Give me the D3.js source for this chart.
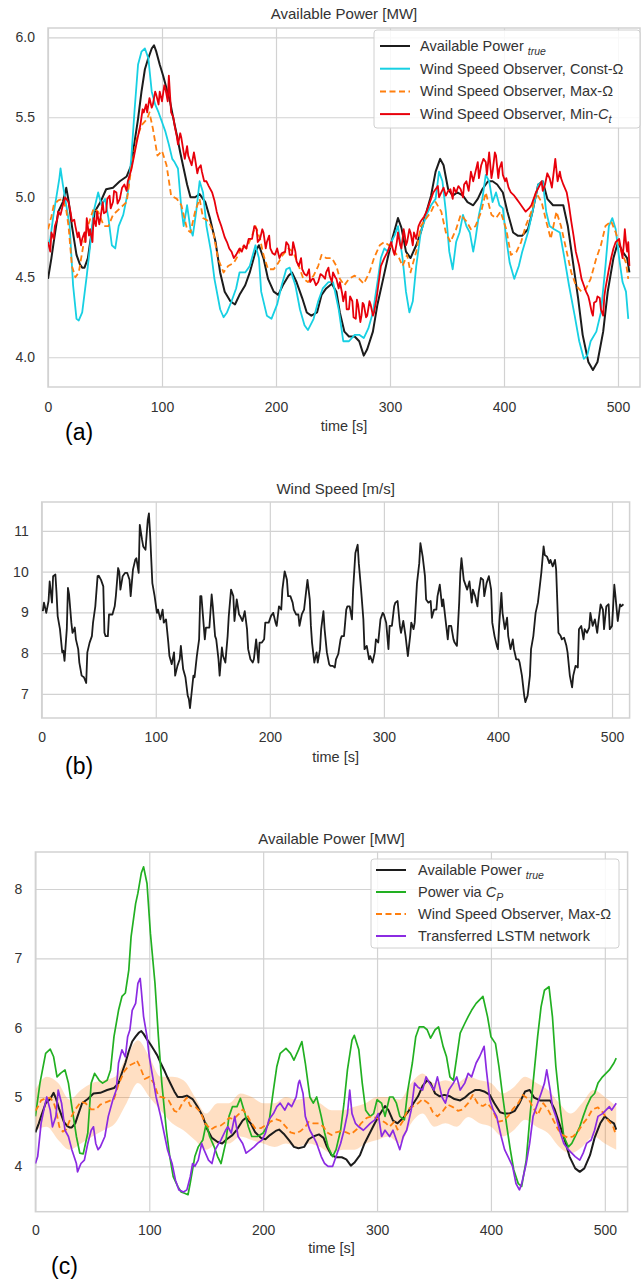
<!DOCTYPE html>
<html><head><meta charset="utf-8">
<script src="https://cdn.jsdelivr.net/npm/d3@7"></script>
<style>body{margin:0;background:#fff}svg{display:block}text{font-family:"Liberation Sans",Arial,sans-serif}</style>
</head><body><svg id="chart" width="641" height="1280"></svg>
<script>
// ---------- data (time [s], value) ----------
const timeTicks = [0, 100, 200, 300, 400, 500];
const powerTicks = [4.0, 4.5, 5.0, 5.5, 6.0];
const windTicks = [7, 8, 9, 10, 11];
const powerTicksC = [4, 5, 6, 7, 8];

const powerTrue = [[0,4.49],[3,4.62],[5,4.72],[9,4.91],[13,4.97],[16,5.06],[18,4.98],[21,4.82],[25,4.64],[28,4.58],[30,4.56],[32,4.56],[35,4.62],[37,4.72],[41,4.91],[46,4.97],[51,5.05],[57,5.06],[63,5.10],[69,5.13],[73,5.20],[76,5.35],[79,5.49],[82,5.66],[85,5.80],[88,5.87],[91,5.93],[93,5.95],[95,5.91],[98,5.83],[101,5.76],[104,5.68],[107,5.60],[110,5.49],[113,5.39],[116,5.28],[119,5.18],[122,5.08],[125,5.00],[129,5.00],[133,5.02],[138,4.97],[142,4.87],[147,4.72],[151,4.53],[155,4.41],[160,4.35],[164,4.33],[168,4.39],[173,4.45],[177,4.53],[182,4.66],[185,4.70],[189,4.62],[193,4.49],[198,4.41],[202,4.39],[206,4.45],[211,4.51],[214,4.53],[218,4.47],[223,4.37],[227,4.28],[231,4.26],[236,4.28],[240,4.39],[244,4.43],[249,4.46],[253,4.41],[256,4.28],[260,4.16],[264,4.13],[269,4.13],[273,4.10],[277,4.01],[280,4.05],[285,4.16],[289,4.33],[294,4.49],[298,4.62],[302,4.74],[307,4.87],[310,4.81],[314,4.66],[318,4.62],[323,4.70],[327,4.78],[332,4.91],[336,5.01],[340,5.16],[344,5.24],[347,5.20],[351,5.05],[355,5.01],[359,5.03],[364,5.01],[368,4.97],[373,4.95],[377,4.99],[381,5.05],[386,5.10],[390,5.10],[394,5.08],[399,5.03],[403,4.91],[408,4.78],[412,4.76],[416,4.76],[421,4.80],[425,4.91],[430,5.08],[434,5.10],[438,4.99],[443,4.95],[447,4.95],[452,4.95],[456,4.82],[460,4.62],[465,4.37],[469,4.14],[474,3.97],[478,3.92],[482,3.97],[487,4.16],[491,4.41],[496,4.62],[500,4.72],[504,4.66],[508,4.62],[510,4.53]];

const obsConstOmega = [[0,4.70],[2,4.74],[5,4.90],[8,5.03],[10,5.12],[11,5.18],[13,5.08],[16,4.95],[19,4.82],[22,4.45],[25,4.24],[27,4.23],[30,4.28],[34,4.51],[37,4.70],[40,4.91],[44,5.03],[47,4.95],[50,4.99],[53,4.87],[56,4.70],[59,4.68],[62,4.82],[66,4.89],[70,5.03],[73,5.24],[76,5.55],[79,5.83],[82,5.91],[85,5.93],[88,5.87],[91,5.66],[94,5.58],[97,5.53],[100,5.47],[103,5.41],[106,5.33],[109,5.24],[111,5.22],[114,5.18],[117,4.93],[119,4.82],[122,4.95],[125,4.80],[127,4.76],[130,4.91],[133,5.10],[136,5.03],[139,4.82],[143,4.66],[146,4.49],[151,4.30],[154,4.25],[157,4.28],[161,4.35],[165,4.43],[168,4.53],[173,4.53],[177,4.57],[182,4.70],[185,4.62],[187,4.41],[192,4.26],[196,4.24],[201,4.33],[205,4.45],[209,4.55],[212,4.56],[217,4.45],[221,4.30],[225,4.20],[228,4.17],[233,4.24],[237,4.35],[241,4.43],[246,4.47],[250,4.47],[255,4.30],[259,4.10],[264,4.10],[269,4.14],[273,4.14],[277,4.12],[281,4.18],[285,4.28],[289,4.47],[292,4.62],[295,4.68],[298,4.66],[301,4.72],[304,4.76],[307,4.82],[311,4.62],[314,4.41],[317,4.28],[320,4.35],[323,4.57],[327,4.78],[332,4.89],[336,4.95],[340,4.99],[343,5.16],[346,5.10],[349,4.91],[352,4.66],[355,4.55],[358,4.72],[361,4.78],[364,4.89],[367,4.82],[370,4.78],[373,4.66],[375,4.74],[378,4.89],[381,4.99],[384,5.14],[387,5.10],[390,4.97],[393,5.03],[396,4.95],[399,4.93],[402,4.74],[405,4.59],[409,4.49],[413,4.57],[416,4.66],[421,4.78],[425,4.91],[430,5.08],[434,5.10],[437,4.91],[440,4.82],[444,4.80],[449,4.78],[453,4.62],[457,4.45],[462,4.26],[466,4.10],[470,3.99],[473,4.01],[476,4.10],[481,4.16],[485,4.28],[489,4.57],[492,4.82],[495,4.87],[498,4.80],[501,4.62],[504,4.47],[507,4.41],[509,4.24]];

const obsMaxOmega = [[0,4.80],[3,4.88],[5,4.95],[9,4.98],[13,4.99],[16,4.92],[18,4.82],[21,4.57],[24,4.50],[27,4.53],[31,4.70],[35,4.82],[40,4.93],[44,4.91],[49,4.82],[53,4.82],[57,4.89],[63,4.93],[69,4.97],[73,5.18],[78,5.37],[82,5.45],[87,5.49],[89,5.53],[92,5.43],[96,5.26],[100,5.29],[104,5.20],[108,5.01],[113,4.99],[117,4.95],[122,4.80],[125,4.78],[129,4.91],[133,4.99],[136,4.87],[141,4.85],[145,4.78],[149,4.62],[154,4.53],[158,4.57],[163,4.59],[167,4.64],[170,4.70],[174,4.68],[179,4.76],[182,4.82],[186,4.74],[189,4.64],[193,4.55],[198,4.55],[202,4.59],[206,4.64],[211,4.68],[215,4.66],[220,4.57],[224,4.49],[228,4.47],[233,4.51],[237,4.57],[240,4.64],[244,4.62],[249,4.62],[253,4.57],[256,4.49],[260,4.45],[264,4.49],[269,4.51],[273,4.49],[277,4.46],[282,4.53],[286,4.62],[291,4.70],[295,4.72],[299,4.70],[304,4.66],[308,4.62],[311,4.57],[315,4.64],[318,4.53],[323,4.66],[327,4.82],[332,4.87],[336,4.91],[340,4.97],[345,4.91],[349,4.78],[353,4.72],[358,4.80],[362,4.89],[367,4.85],[371,4.80],[375,4.82],[380,4.91],[384,5.03],[389,4.89],[393,4.87],[397,4.91],[402,4.80],[406,4.64],[411,4.66],[415,4.72],[419,4.82],[424,4.91],[428,5.03],[433,4.97],[437,4.85],[441,4.74],[446,4.91],[450,4.82],[455,4.66],[459,4.53],[463,4.45],[468,4.41],[472,4.43],[476,4.49],[481,4.62],[485,4.70],[489,4.82],[494,4.85],[498,4.78],[503,4.66],[507,4.59],[509,4.49]];

const obsMinCt = [[0,4.72],[2,4.66],[3,4.78],[5,4.74],[6,4.82],[8,4.86],[9,4.91],[11,4.89],[13,4.95],[15,5.00],[18,4.97],[20,4.90],[21,4.85],[23,4.86],[24,4.82],[26,4.75],[27,4.78],[29,4.70],[30,4.74],[32,4.78],[33,4.72],[34,4.87],[36,4.76],[37,4.80],[39,4.72],[40,4.87],[42,4.82],[43,4.91],[45,4.83],[46,4.87],[48,4.97],[49,4.90],[51,4.91],[52,4.99],[54,5.01],[55,4.93],[57,4.97],[58,5.04],[60,5.03],[61,4.96],[63,4.99],[65,5.06],[67,5.08],[69,5.04],[70,5.10],[73,5.17],[75,5.24],[78,5.35],[81,5.45],[83,5.55],[84,5.53],[86,5.58],[87,5.53],[89,5.62],[91,5.56],[92,5.58],[94,5.66],[95,5.64],[97,5.58],[98,5.66],[100,5.60],[102,5.70],[103,5.68],[105,5.60],[106,5.76],[108,5.53],[110,5.50],[111,5.45],[113,5.38],[114,5.33],[116,5.40],[117,5.37],[119,5.28],[120,5.24],[122,5.32],[123,5.26],[125,5.22],[126,5.20],[128,5.28],[129,5.24],[131,5.15],[132,5.18],[134,5.20],[135,5.16],[137,5.10],[139,5.10],[141,5.07],[144,5.03],[146,4.98],[148,4.91],[150,4.86],[152,4.82],[155,4.75],[157,4.72],[159,4.68],[161,4.66],[163,4.62],[165,4.64],[168,4.68],[170,4.66],[172,4.70],[174,4.68],[176,4.74],[179,4.74],[181,4.82],[183,4.80],[184,4.72],[186,4.74],[188,4.80],[189,4.78],[191,4.68],[192,4.72],[194,4.76],[195,4.68],[197,4.65],[199,4.64],[201,4.68],[203,4.62],[205,4.65],[208,4.66],[209,4.72],[211,4.70],[212,4.64],[214,4.64],[215,4.72],[217,4.66],[218,4.60],[220,4.57],[222,4.62],[223,4.55],[225,4.52],[227,4.51],[229,4.55],[230,4.47],[232,4.49],[233,4.49],[235,4.45],[237,4.47],[239,4.52],[241,4.51],[243,4.49],[244,4.53],[246,4.56],[247,4.51],[249,4.47],[250,4.53],[252,4.50],[253,4.49],[255,4.43],[256,4.47],[258,4.40],[259,4.35],[261,4.41],[262,4.30],[264,4.30],[265,4.38],[267,4.35],[268,4.25],[270,4.24],[271,4.36],[272,4.33],[274,4.22],[275,4.26],[276,4.34],[277,4.33],[279,4.25],[280,4.26],[282,4.35],[283,4.33],[285,4.26],[286,4.28],[288,4.36],[289,4.41],[292,4.57],[295,4.62],[298,4.66],[301,4.72],[303,4.66],[304,4.64],[306,4.72],[307,4.78],[309,4.70],[310,4.68],[312,4.80],[313,4.76],[314,4.70],[315,4.72],[317,4.80],[318,4.78],[320,4.70],[321,4.78],[323,4.74],[325,4.82],[327,4.85],[330,4.88],[332,4.91],[334,4.95],[336,4.99],[338,5.03],[340,5.05],[342,5.07],[343,5.00],[345,5.03],[347,5.06],[349,5.01],[351,5.04],[353,5.05],[355,4.99],[356,5.06],[358,5.03],[360,5.07],[362,5.05],[364,5.00],[365,5.08],[367,5.10],[369,5.04],[371,5.16],[373,5.10],[375,5.16],[377,5.22],[378,5.12],[380,5.20],[382,5.24],[384,5.22],[385,5.14],[387,5.28],[389,5.12],[390,5.16],[392,5.28],[393,5.26],[395,5.12],[396,5.18],[398,5.22],[399,5.14],[401,5.10],[402,5.12],[404,5.06],[406,5.03],[409,5.01],[411,4.99],[413,4.97],[415,4.95],[417,4.93],[419,4.91],[422,4.93],[424,4.95],[426,4.99],[428,5.03],[431,5.07],[433,5.10],[434,5.04],[436,5.08],[438,5.15],[440,5.12],[442,5.06],[444,5.18],[445,5.24],[447,5.10],[449,5.16],[450,5.12],[452,5.08],[455,5.03],[457,4.95],[459,4.85],[461,4.76],[463,4.66],[466,4.57],[468,4.49],[470,4.45],[472,4.41],[474,4.38],[475,4.35],[477,4.28],[478,4.26],[479,4.34],[481,4.35],[482,4.38],[484,4.37],[485,4.30],[487,4.26],[488,4.38],[489,4.43],[492,4.55],[494,4.62],[496,4.68],[498,4.72],[501,4.74],[503,4.66],[504,4.62],[505,4.70],[506,4.80],[507,4.72],[508,4.66],[509,4.72],[510,4.57]];

const windSpeed = [[1,9.03],[2,9.24],[4,8.99],[6,9.28],[7,9.76],[9,9.24],[10,9.89],[12,9.93],[13,9.48],[14,8.91],[16,8.59],[18,8.02],[19,8.06],[20,7.81],[22,8.59],[23,9.60],[24,9.44],[26,8.75],[27,8.50],[29,8.63],[30,8.34],[32,8.10],[33,7.77],[35,7.45],[37,7.41],[39,7.27],[40,8.02],[42,8.26],[44,8.42],[45,8.75],[47,9.15],[49,9.89],[50,9.90],[52,9.80],[54,9.64],[55,8.50],[56,8.42],[58,8.42],[59,8.95],[62,8.95],[64,9.15],[65,9.40],[67,10.09],[68,10.00],[69,9.56],[71,9.89],[73,9.97],[75,9.97],[77,9.80],[78,9.40],[80,10.05],[82,10.29],[83,10.33],[85,9.97],[86,11.15],[88,10.78],[89,10.62],[91,10.54],[93,11.27],[94,11.43],[95,10.94],[97,9.72],[99,9.40],[101,8.99],[102,9.07],[104,8.83],[106,9.07],[107,8.75],[109,8.83],[111,8.26],[112,7.93],[114,7.73],[116,8.02],[117,7.45],[119,7.69],[121,7.85],[122,8.18],[124,7.61],[126,7.41],[128,6.96],[129,6.88],[130,6.65],[133,7.45],[134,7.41],[136,7.93],[138,8.34],[139,9.40],[140,9.40],[143,8.34],[144,8.63],[147,8.63],[149,9.44],[150,9.15],[152,8.42],[153,8.34],[155,7.85],[156,7.45],[158,8.14],[159,7.93],[161,7.77],[163,8.42],[164,8.91],[166,9.56],[168,9.40],[169,8.79],[171,9.32],[173,8.95],[174,8.91],[176,8.79],[178,9.03],[180,8.59],[181,8.10],[183,7.85],[185,7.77],[186,7.85],[188,8.34],[190,7.77],[191,8.26],[193,8.26],[195,8.34],[196,8.75],[199,8.75],[201,8.91],[203,8.99],[205,8.75],[206,8.67],[208,9.15],[210,9.07],[211,9.56],[213,10.01],[215,9.80],[216,9.40],[218,9.40],[220,9.24],[221,9.07],[223,8.95],[225,8.95],[226,8.67],[228,8.95],[230,9.07],[232,9.56],[233,9.80],[235,9.32],[236,8.67],[237,8.26],[239,7.77],[241,8.02],[242,7.77],[244,8.10],[245,8.59],[247,9.03],[248,8.59],[250,8.02],[252,7.73],[253,7.69],[255,7.69],[257,7.65],[258,7.85],[260,7.98],[262,8.34],[263,8.42],[265,8.42],[267,9.07],[268,9.15],[270,9.15],[272,8.83],[273,9.56],[275,10.46],[277,10.66],[278,10.21],[280,9.56],[282,8.83],[283,8.10],[285,8.18],[287,7.85],[288,7.93],[290,7.77],[292,8.02],[293,8.34],[295,8.26],[297,8.83],[299,8.99],[300,8.95],[302,8.75],[304,8.10],[305,8.67],[307,8.67],[309,9.15],[310,9.24],[312,9.28],[314,8.67],[315,8.50],[317,8.79],[319,8.42],[321,7.93],[323,8.42],[324,8.75],[326,8.59],[327,8.75],[329,9.72],[331,10.21],[332,10.70],[334,10.37],[336,9.89],[337,9.32],[339,9.24],[341,9.28],[342,8.87],[344,9.07],[346,9.07],[347,9.40],[349,9.68],[351,9.15],[352,9.32],[354,8.83],[356,8.34],[357,8.67],[359,8.67],[361,8.34],[362,8.26],[364,8.18],[366,9.24],[367,9.97],[368,10.33],[370,9.80],[372,9.64],[373,9.56],[375,9.76],[377,9.24],[378,9.56],[380,9.40],[382,9.15],[383,9.48],[385,9.85],[387,9.80],[388,9.40],[390,9.72],[392,9.89],[394,9.56],[395,8.75],[397,8.42],[399,8.18],[400,8.10],[401,8.67],[403,9.48],[404,8.99],[406,8.59],[408,8.87],[409,8.42],[411,8.10],[413,8.34],[414,8.10],[416,7.85],[418,7.85],[419,7.77],[421,7.45],[423,6.96],[424,6.80],[426,6.96],[428,7.45],[429,8.10],[431,8.42],[433,8.99],[435,9.24],[436,9.48],[438,9.97],[440,10.62],[441,10.41],[443,10.37],[445,10.21],[446,10.29],[448,10.13],[450,10.29],[451,10.05],[453,8.50],[455,8.42],[456,8.34],[458,8.38],[460,8.18],[461,8.02],[463,7.45],[465,7.16],[466,7.45],[468,7.69],[470,7.65],[471,8.59],[473,8.67],[475,8.34],[476,8.59],[478,8.50],[480,8.63],[481,8.99],[483,8.67],[485,8.83],[487,8.50],[488,8.75],[490,9.20],[492,9.07],[493,8.59],[495,9.15],[497,9.20],[498,8.59],[500,8.67],[502,9.68],[503,9.40],[505,8.79],[507,9.20],[508,9.15],[510,9.20]];

const powerViaCp = [[0,4.72],[4,5.20],[9,5.63],[13,5.69],[16,5.58],[19,5.29],[22,5.34],[26,5.39],[29,5.20],[32,4.86],[36,4.43],[39,4.19],[42,4.18],[46,4.48],[49,5.20],[52,5.34],[56,5.24],[59,5.20],[63,5.24],[66,5.39],[69,5.87],[73,6.25],[76,6.45],[79,6.50],[82,6.83],[84,7.31],[88,7.79],[90,7.94],[93,8.23],[95,8.32],[98,8.08],[101,7.36],[105,6.64],[108,5.87],[111,5.20],[115,4.52],[118,4.14],[121,3.85],[125,3.71],[128,3.63],[131,3.61],[134,3.59],[136,3.76],[140,4.14],[143,4.28],[147,4.38],[150,4.62],[153,4.43],[157,4.28],[160,4.14],[163,4.04],[167,4.33],[170,4.72],[173,4.86],[177,4.86],[180,4.98],[184,4.76],[187,4.57],[190,4.43],[195,4.43],[200,4.48],[205,4.62],[209,5.10],[212,5.44],[215,5.63],[220,5.70],[224,5.63],[227,5.53],[231,5.68],[234,5.80],[237,5.49],[241,5.00],[244,4.91],[247,5.00],[251,4.72],[254,4.48],[257,4.28],[261,4.14],[264,4.24],[268,4.52],[271,4.91],[274,5.39],[278,5.82],[280,5.89],[284,5.68],[287,5.20],[290,4.81],[294,4.72],[297,4.76],[300,4.96],[304,4.91],[307,4.72],[311,5.00],[314,5.00],[317,4.91],[320,4.72],[324,4.67],[327,5.10],[331,5.49],[334,5.87],[337,6.01],[341,6.01],[344,5.97],[347,5.85],[351,5.97],[354,6.01],[358,5.73],[361,5.58],[364,5.29],[367,5.24],[370,5.58],[373,5.92],[377,6.06],[380,6.16],[383,6.25],[387,6.35],[390,6.40],[393,6.45],[397,6.16],[400,5.87],[404,5.77],[407,5.44],[410,5.05],[414,4.57],[417,4.24],[420,3.95],[424,3.75],[427,3.71],[431,4.09],[434,4.67],[437,5.20],[441,5.87],[444,6.30],[447,6.54],[451,6.59],[454,6.16],[457,5.44],[461,4.81],[464,4.43],[468,4.28],[471,4.33],[474,4.43],[478,4.57],[481,4.72],[484,4.86],[488,5.00],[491,5.05],[494,5.20],[498,5.29],[501,5.34],[504,5.39],[508,5.49],[510,5.56]];

const lstmTransferred = [[0,4.04],[2,4.14],[5,4.62],[8,4.86],[10,5.00],[13,4.81],[15,4.57],[18,4.72],[20,5.10],[23,4.91],[26,4.52],[29,4.43],[32,4.24],[36,4.04],[37,3.92],[40,4.04],[43,4.09],[46,4.33],[49,4.52],[51,4.57],[53,4.33],[55,4.24],[57,4.28],[61,4.43],[64,4.72],[68,4.96],[71,5.10],[73,5.49],[76,5.68],[79,5.58],[81,5.87],[83,5.97],[85,6.25],[88,6.35],[90,6.64],[92,6.71],[93,6.54],[95,6.16],[98,5.87],[100,5.58],[103,5.29],[106,5.00],[110,4.72],[113,4.48],[116,4.24],[120,4.04],[123,3.80],[126,3.66],[130,3.63],[133,3.66],[136,3.85],[138,4.04],[140,4.00],[143,4.09],[146,4.33],[148,4.24],[152,4.09],[155,4.04],[158,4.24],[161,4.33],[163,4.38],[167,4.52],[169,4.57],[172,4.48],[175,4.72],[178,4.43],[182,4.33],[185,4.19],[189,4.24],[192,4.28],[195,4.33],[199,4.38],[202,4.48],[205,4.67],[209,4.76],[212,4.86],[215,4.91],[219,4.81],[222,4.91],[225,4.86],[229,5.00],[231,5.20],[232,5.24],[235,5.05],[237,4.72],[241,4.52],[244,4.43],[247,4.33],[251,4.14],[254,4.04],[257,4.00],[261,4.00],[264,4.14],[268,4.33],[271,4.52],[274,4.76],[276,5.10],[278,4.76],[281,4.62],[284,4.57],[288,4.52],[291,4.57],[294,4.62],[298,4.67],[301,4.76],[304,4.43],[307,4.52],[311,4.43],[314,4.52],[317,4.38],[320,4.24],[323,4.43],[326,4.52],[330,4.81],[333,5.20],[336,5.14],[340,5.10],[343,5.29],[346,5.20],[350,5.10],[353,5.29],[357,5.00],[360,4.91],[363,5.10],[367,5.20],[370,5.29],[373,5.10],[377,5.20],[380,5.34],[383,5.29],[387,5.49],[390,5.58],[394,5.73],[396,5.39],[399,4.96],[402,4.81],[405,4.72],[409,4.43],[412,4.24],[415,4.14],[419,4.00],[422,3.75],[425,3.66],[427,3.75],[431,4.04],[434,4.33],[437,4.72],[441,4.91],[444,5.05],[447,5.20],[449,5.39],[452,5.10],[454,4.86],[457,4.72],[461,4.48],[464,4.33],[468,4.24],[471,4.19],[474,4.14],[478,4.09],[481,4.19],[484,4.33],[488,4.38],[491,4.52],[494,4.72],[498,4.76],[501,4.81],[504,4.86],[506,4.81],[510,4.91]];

const bandTime = d3.range(0, 511, 10);
const bandUpper = [5.10,5.29,5.20,4.96,5.10,5.20,5.24,5.29,5.58,5.82,5.58,5.29,5.29,5.24,5.00,4.76,4.91,4.91,5.05,5.00,4.91,4.91,5.00,4.96,5.00,4.91,4.81,4.81,4.86,4.91,5.00,5.00,4.96,5.20,5.34,5.20,5.24,5.20,5.29,5.24,5.20,5.05,5.14,5.29,5.20,5.10,4.91,4.76,4.91,5.10,5.00,4.86];
const bandLower = [4.52,4.57,4.38,4.24,4.33,4.43,4.52,4.62,4.91,5.20,5.00,4.81,4.62,4.52,4.38,4.24,4.33,4.33,4.43,4.38,4.33,4.28,4.33,4.28,4.33,4.28,4.19,4.24,4.24,4.33,4.38,4.43,4.33,4.62,4.76,4.57,4.62,4.57,4.71,4.62,4.57,4.43,4.52,4.67,4.57,4.48,4.28,4.19,4.28,4.43,4.33,4.24];

// ---------- drawing ----------
const C = {black:"#1c1c1c", cyan:"#17d0e3", orange:"#ff7f0e", red:"#e8000b", green:"#22b022", purple:"#8b2be2", grid:"#d2d2d2", text:"#333"};
const svg = d3.select("#chart");
svg.append("rect").attr("width",641).attr("height",1280).attr("fill","#fff");
let clipN = 0;

function panel(o) {
  const x = d3.scaleLinear().domain([0, o.xMax]).range([o.left, o.right]);
  const y = d3.scaleLinear().domain([o.yMin, o.yMax]).range([o.bottom, o.top]);
  const g = svg.append("g");
  const w = o.right - o.left, h = o.bottom - o.top;
  const ax = g.append("g").attr("transform", `translate(0,${o.bottom})`)
    .call(d3.axisBottom(x).tickValues(timeTicks).tickFormat(d3.format("d")).tickSize(-h).tickPadding(o.xPad));
  const ay = g.append("g").attr("transform", `translate(${o.left},0)`)
    .call(d3.axisLeft(y).tickValues(o.yTicks).tickFormat(o.yFmt).tickSize(-w).tickPadding(13));
  [ax, ay].forEach(a => {
    a.select(".domain").remove();
    a.selectAll("line").attr("stroke", C.grid).attr("stroke-width", 1.2);
    a.selectAll("text").attr("fill", C.text).style("font-size", "14px");
  });
  g.append("rect").attr("x", o.left).attr("y", o.top).attr("width", w).attr("height", h)
    .attr("fill", "none").attr("stroke", C.grid).attr("stroke-width", 1.5);
  const id = "clip" + (clipN++);
  svg.append("clipPath").attr("id", id).append("rect").attr("x", o.left).attr("y", o.top).attr("width", w).attr("height", h);
  const plot = g.append("g").attr("clip-path", `url(#${id})`);
  g.append("text").attr("x", (o.left + o.right) / 2).attr("y", o.titleY).attr("text-anchor", "middle")
    .attr("fill", C.text).style("font-size", "15px").text(o.title);
  g.append("text").attr("x", (o.left + o.right) / 2).attr("y", o.xLabY).attr("text-anchor", "middle")
    .attr("fill", C.text).style("font-size", "14.5px").text("time [s]");
  g.append("text").attr("x", o.letterX).attr("y", o.letterY).attr("fill", "#000")
    .style("font-size", "23px").text(o.letter);
  return {x, y, plot, g};
}

function drawLine(p, data, color, width, dash) {
  const line = d3.line().x(d => p.x(d[0])).y(d => p.y(d[1]));
  p.plot.append("path").datum(data).attr("d", line).attr("fill", "none")
    .attr("stroke", color).attr("stroke-width", width).attr("stroke-linejoin", "round")
    .attr("stroke-dasharray", dash || null);
}

function legend(p, box, items) {
  const lg = p.g.append("g");
  lg.append("rect").attr("x", box.x).attr("y", box.y).attr("width", box.w).attr("height", box.h)
    .attr("rx", 3).attr("fill", "#fff").attr("fill-opacity", 0.85).attr("stroke", "#d0d0d0");
  items.forEach((it, i) => {
    const yy = box.y0 + i * box.dy;
    lg.append("line").attr("x1", box.lx).attr("x2", box.lx + 30).attr("y1", yy).attr("y2", yy)
      .attr("stroke", it.color).attr("stroke-width", it.w).attr("stroke-dasharray", it.dash || null);
    const t = lg.append("text").attr("x", box.tx).attr("y", yy + 5).attr("fill", C.text).style("font-size", "14.5px");
    it.parts.forEach(pt => {
      const ts = t.append("tspan").text(pt.t);
      if (pt.it) ts.style("font-style", "italic");
      if (pt.sub) ts.style("font-size", "10.5px").attr("dy", 4);
    });
  });
}

const f1 = d3.format(".1f"), f0 = d3.format("d");

// (a)
const pa = panel({left:48, right:640, top:28, bottom:387, xMax:519.3, yMin:3.814, yMax:6.058,
  yTicks:powerTicks, yFmt:f1, xPad:15, title:"Available Power [MW]", titleY:19, xLabY:431,
  letter:"(a)", letterX:65, letterY:440});
drawLine(pa, powerTrue, C.black, 2);
drawLine(pa, obsConstOmega, C.cyan, 1.8);
drawLine(pa, obsMaxOmega, C.orange, 1.8, "6,3.5");
drawLine(pa, obsMinCt, C.red, 1.8);
legend(pa, {x:374, y:30, w:266, h:98, y0:46, dy:22.7, lx:380, tx:420}, [
  {color:C.black, w:2, parts:[{t:"Available Power "},{t:"true", it:1, sub:1}]},
  {color:C.cyan, w:2, parts:[{t:"Wind Speed Observer, Const-Ω"}]},
  {color:C.orange, w:2, dash:"6,3.5", parts:[{t:"Wind Speed Observer, Max-Ω"}]},
  {color:C.red, w:2, parts:[{t:"Wind Speed Observer, Min-"},{t:"C", it:1},{t:"t", it:1, sub:1}]}
]);

// (b)
const pb = panel({left:41.7, right:629.6, top:502, bottom:718, xMax:515.4, yMin:6.41, yMax:11.71,
  yTicks:windTicks, yFmt:f0, xPad:14, title:"Wind Speed [m/s]", titleY:494, xLabY:762,
  letter:"(b)", letterX:65, letterY:774});
drawLine(pb, windSpeed, C.black, 1.8);

// (c)
const pc = panel({left:35.4, right:627.6, top:852, bottom:1211.7, xMax:520, yMin:3.345, yMax:8.534,
  yTicks:powerTicksC, yFmt:f0, xPad:13, title:"Available Power [MW]", titleY:844, xLabY:1253,
  letter:"(c)", letterX:51, letterY:1274});
const band = bandTime.map((t, i) => ({t, lo: bandLower[i], hi: bandUpper[i]}));
pc.plot.append("path").datum(band)
  .attr("d", d3.area().curve(d3.curveMonotoneX).x(d => pc.x(d.t)).y0(d => pc.y(d.lo)).y1(d => pc.y(d.hi)))
  .attr("fill", C.orange).attr("fill-opacity", 0.25);
drawLine(pc, powerTrue, C.black, 2);
drawLine(pc, powerViaCp, C.green, 1.7);
drawLine(pc, obsMaxOmega, C.orange, 1.8, "6,3.5");
drawLine(pc, lstmTransferred, C.purple, 1.7);
legend(pc, {x:371, y:859, w:248, h:89, y0:870, dy:22, lx:376, tx:418}, [
  {color:C.black, w:2, parts:[{t:"Available Power "},{t:"true", it:1, sub:1}]},
  {color:C.green, w:2, parts:[{t:"Power via "},{t:"C", it:1},{t:"P", it:1, sub:1}]},
  {color:C.orange, w:2, dash:"6,3.5", parts:[{t:"Wind Speed Observer, Max-Ω"}]},
  {color:C.purple, w:2, parts:[{t:"Transferred LSTM network"}]}
]);
</script></body></html>
